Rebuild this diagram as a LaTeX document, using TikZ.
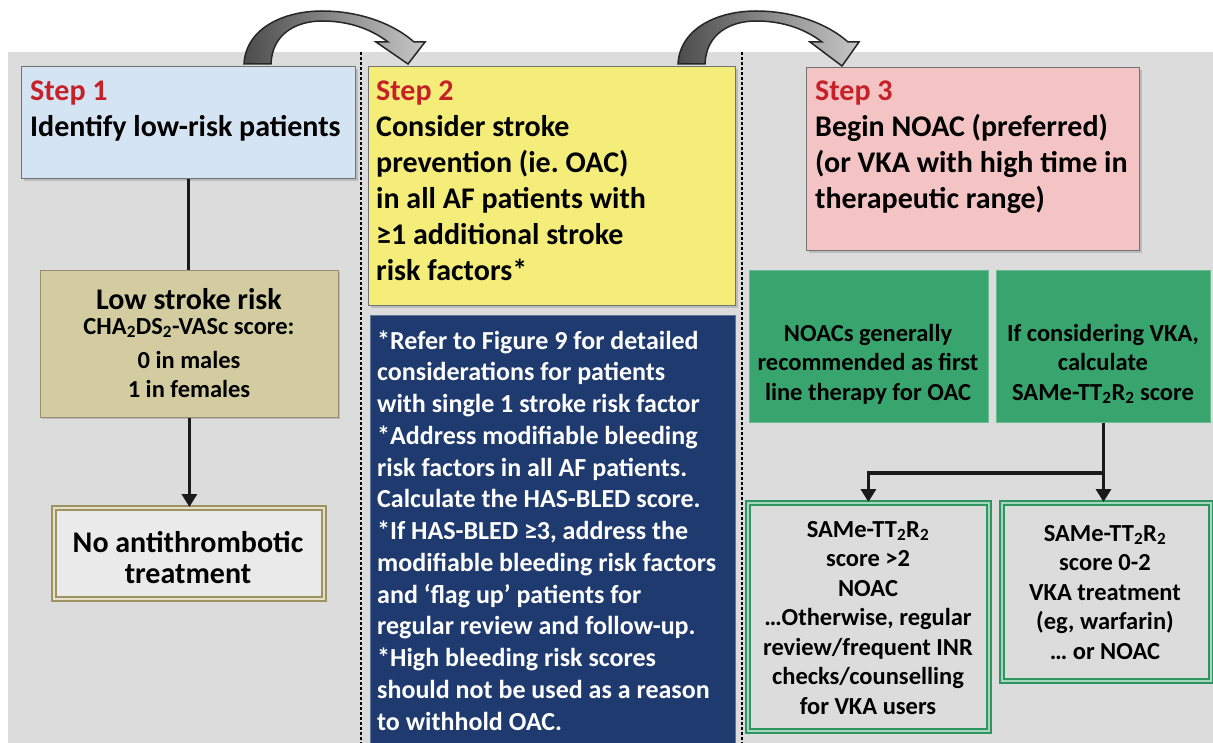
\documentclass[tikz,border=0pt]{standalone}
\usepackage{fontspec}
\setmainfont{Carlito}
\usetikzlibrary{arrows.meta,shadows}
\frenchspacing
\definecolor{bgc}{HTML}{DCDCDC}
\definecolor{sone}{HTML}{D5E4F3}
\definecolor{stwo}{HTML}{F5ED79}
\definecolor{sthree}{HTML}{F4C4C4}
\definecolor{stepred}{HTML}{C62128}
\definecolor{khaki}{HTML}{D4CCA1}
\definecolor{khakid}{HTML}{9C9262}
\definecolor{navy}{HTML}{1E3A6F}
\definecolor{grn}{HTML}{38A46E}
\definecolor{grnd}{HTML}{2F9560}
\definecolor{ink}{HTML}{1A1A1A}
\tikzset{
  stepbox/.style={draw=black!55, line width=1.2pt, inner sep=0pt, anchor=north west,
    drop shadow={shadow xshift=2pt, shadow yshift=-2pt, opacity=0.35}},
  greenbox/.style={draw=grn!75!white, line width=1pt, fill=grn, inner sep=0pt, anchor=north west},
  dblgreen/.style={draw=grnd, line width=1.8pt, double=grn!45!white, double distance=2.5pt, fill=bgc, inner sep=0pt, anchor=north west},
  dblkhaki/.style={draw=khakid, line width=1.8pt, double=khaki!60!white, double distance=2.5pt, fill=bgc!60!white, inner sep=0pt, anchor=north west},
  tbig/.style={inner sep=0pt, font=\bfseries\fontsize{30}{36}\selectfont},
  tblue/.style={inner sep=0pt, font=\bfseries\fontsize{26}{31.75}\selectfont, text=white},
  tmid/.style={inner sep=0pt, font=\bfseries\fontsize{24.5}{29.5}\selectfont},
  conn/.style={draw=ink, line width=3.5pt},
  connarrow/.style={conn, -{Triangle[width=15pt,length=13pt]}},
  sepline/.style={draw=black, line width=1.4pt, dash pattern=on 3pt off 2pt},
  toparrow/.style={draw=black!85, line width=1.5pt, left color=black!70, right color=black!22},
}
\newcommand{\stH}[1]{\rule{0pt}{#1}}
\begin{document}
\begin{tikzpicture}[x=1pt,y=-1pt]
\useasboundingbox (0,0) rectangle (1213,743);
\fill[white] (0,0) rectangle (1213,743);
\fill[bgc] (8,52) rectangle (1213,743);

% separators
\draw[sepline] (361,52) -- (361,743);
\draw[sepline] (742,52) -- (742,743);

% top curved arrows
\path[toparrow] (244,64) .. controls (246,28) and (284,11) .. (322,11) .. controls (360,11) and (394,24) .. (414,42) -- (425,42) -- (408,64) -- (376,42) -- (388,42) .. controls (371,29) and (349,21) .. (322,21) .. controls (296,21) and (272,34) .. (271,64) -- cycle;
\begin{scope}[xshift=434pt]
\path[toparrow] (244,64) .. controls (246,28) and (284,11) .. (322,11) .. controls (360,11) and (394,24) .. (414,42) -- (425,42) -- (408,66) -- (376,42) -- (388,42) .. controls (371,29) and (349,21) .. (322,21) .. controls (296,21) and (272,34) .. (271,64) -- cycle;
\end{scope}

% step boxes
\node[stepbox, fill=sone, minimum width=334pt, minimum height=112pt] (s1) at (21,66) {};
\node[stepbox, fill=stwo, minimum width=367pt, minimum height=239pt] (s2) at (368,66) {};
\node[stepbox, fill=sthree, minimum width=333pt, minimum height=183pt] (s3) at (806,67) {};

\node[tbig, anchor=north west, align=left] (s1t) at (30,75)
  {\stH{25pt}\textcolor{stepred}{Step 1}\\Identify low-risk patients};
\node[tbig, anchor=north west, align=left] (s2t) at (376,75)
  {\stH{25pt}\textcolor{stepred}{Step 2}\\Consider stroke\\prevention (ie. OAC)\\in all AF patients with\\≥1 additional stroke\\risk factors*};
\node[tbig, anchor=north west, align=left] (s3t) at (815,75)
  {\stH{25pt}\textcolor{stepred}{Step 3}\\Begin NOAC (preferred)\\(or VKA with high time in\\therapeutic range)};

% blue box
\node[draw=navy!70!white, line width=1pt, fill=navy, inner sep=0pt, anchor=north west,
  minimum width=365pt, minimum height=432pt] (blue) at (370,315) {};
\node[tblue, anchor=north west, align=left] (bluet) at (377,327)
  {\stH{22pt}*Refer to Figure 9 for detailed\\considerations for patients\\with single 1 stroke risk factor\\*Address modifiable bleeding\\risk factors in all AF patients.\\Calculate the HAS-BLED score.\\*If HAS-BLED ≥3, address the\\modifiable bleeding risk factors\\and ‘flag up’ patients for\\regular review and follow-up.\\*High bleeding risk scores\\should not be used as a reason\\to withhold OAC.};

% left column
\node[stepbox, fill=khaki, draw=khaki!70!black, line width=0.8pt, minimum width=298pt, minimum height=147pt] (low) at (40,270) {};
\node[tbig, anchor=base] (lowt1) at (189,310) {Low stroke risk};
\node[tmid, anchor=north, align=center, font=\bfseries\fontsize{24.5}{29}\selectfont] (lowt2) at (189,313)
  {\stH{21pt}CHA\textsubscript{2}DS\textsubscript{2}-VASc score:\\[5pt]0 in males\\1 in females};
\node[dblkhaki, minimum width=270pt, minimum height=91pt] (noanti) at (53,507) {};
\node[tbig, anchor=north, align=center, font=\bfseries\fontsize{30}{31}\selectfont] (noantit) at (188,527)
  {\stH{25pt}No antithrombotic\\treatment};

\draw[conn] (s1.south) -- (s1.south |- low.north);
\draw[connarrow] (low.south) -- (low.south |- noanti.north);

% green boxes
\node[greenbox, minimum width=239pt, minimum height=152pt] (noac) at (749,270) {};
\node[greenbox, minimum width=214pt, minimum height=152pt] (vka) at (996,270) {};
\node[tmid, anchor=north, align=center] (noact) at (868,320)
  {\stH{21pt}NOACs generally\\recommended as first\\line therapy for OAC};
\node[tmid, anchor=north, align=center] (vkat) at (1103,320)
  {\stH{21pt}If considering VKA,\\calculate\\SAMe-TT\textsubscript{2}R\textsubscript{2} score};

% bottom boxes
\node[dblgreen, minimum width=241pt, minimum height=228pt] (bl) at (747,502) {};
\node[dblgreen, minimum width=209pt, minimum height=178pt] (br) at (1001,502) {};
\node[tmid, anchor=north, align=center] (blt) at (868,516)
  {\stH{21pt}SAMe-TT\textsubscript{2}R\textsubscript{2}\\score >2\\NOAC\\…Otherwise, regular\\review/frequent INR\\checks/counselling\\for VKA users};
\node[tmid, anchor=north, align=center] (brt) at (1105,520)
  {\stH{21pt}SAMe-TT\textsubscript{2}R\textsubscript{2}\\score 0-2\\VKA treatment\\(eg, warfarin)\\… or NOAC};

\coordinate (split) at (1103,473);
\draw[connarrow] (vka.south) -- (vka.south |- br.north);
\draw[connarrow] (split) -| (bl.north);
\end{tikzpicture}
\end{document}
